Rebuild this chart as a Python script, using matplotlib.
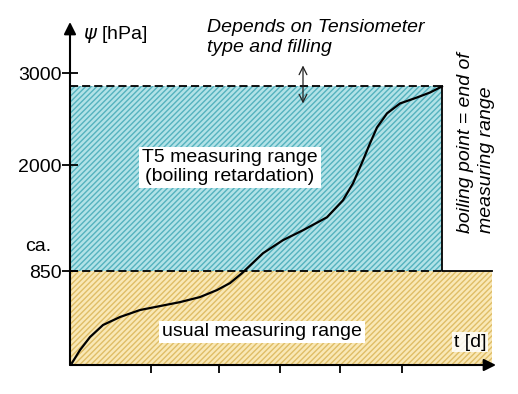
import matplotlib
matplotlib.use("Agg")
import matplotlib.pyplot as plt

plt.rcParams["font.family"] = ["Liberation Sans", "DejaVu Sans"]
plt.rcParams["hatch.linewidth"] = 1.0

# curve: time (arbitrary units) and suction (hPa)
t_curve = [0.2, 1.0, 2.0, 3.3, 5.0, 7.0, 9.0, 11.0, 13.0, 14.7, 16.0, 17.2,
           19.3, 21.3, 23.3, 25.7, 27.3, 28.3, 29.3, 30.0, 30.7, 31.7, 33.0,
           34.7, 36.0, 37.2]
psi_curve = [-149, -8, 133, 264, 351, 427, 470, 513, 568, 644, 720, 828,
             1045, 1187, 1295, 1436, 1621, 1805, 2055, 2240, 2413, 2566, 2674,
             2739, 2793, 2859]

y_ticks = [850, 2000, 3000]
y_labels = ["850", "2000", "3000"]
x_ticks = [8.1, 14.9, 21.0, 27.0, 33.2]

psi_usual = 850      # end of usual measuring range
psi_top = 2860       # boiling point of T5
psi_var = [2674, 3087]  # double arrow span
t_boil = 37.2
t_end = 42.2
t_max = 42.6
psi_min, psi_max = -171, 3560

fig = plt.figure(figsize=(5.18, 3.94), dpi=100)
ax = fig.add_axes([70 / 518, 1 - 365 / 394, (496 - 70) / 518, (365 - 22) / 394])
ax.set_xlim(0, t_max)
ax.set_ylim(psi_min, psi_max)
for s in ax.spines.values():
    s.set_visible(False)

# hatched ranges
ax.fill_between([0, t_end], psi_min, psi_usual, facecolor="#f9e8b6",
                edgecolor="#dfbd66", hatch="//////", linewidth=0, zorder=1)
ax.fill_between([0, t_boil], psi_usual, psi_top, facecolor="#b2e2e7",
                edgecolor="#55b2be", hatch="//////", linewidth=0, zorder=1)

# range borders
ax.plot([0, t_boil], [psi_top, psi_top], color="black", lw=1.3,
        ls=(0, (4.5, 2.2)), zorder=3)
ax.plot([0, t_boil], [psi_usual, psi_usual], color="black", lw=1.3,
        ls=(0, (4.5, 2.2)), zorder=3)
ax.plot([t_boil, t_boil, t_end], [psi_top, psi_usual, psi_usual],
        color="black", lw=1.3, zorder=3)

# measured curve
ax.plot(t_curve, psi_curve, color="black", lw=1.6, zorder=4)

# axes with arrows
ax.annotate("", xy=(1, 0), xytext=(0, 0), xycoords="axes fraction",
            arrowprops=dict(arrowstyle="-|>", color="black", lw=1.5,
                            mutation_scale=18, shrinkA=0, shrinkB=0))
ax.annotate("", xy=(0, 1), xytext=(0, 0), xycoords="axes fraction",
            arrowprops=dict(arrowstyle="-|>", color="black", lw=1.5,
                            mutation_scale=18, shrinkA=0, shrinkB=0))

ax.set_yticks(y_ticks)
ax.set_yticklabels(y_labels, fontsize=14)
ax.tick_params(axis="y", direction="inout", length=12, width=1.3, pad=0)
ax.set_xticks(x_ticks)
ax.set_xticklabels([])
ax.tick_params(axis="x", direction="out", length=6, width=1.3)

# double arrow for the variable upper limit
ax.annotate("", xy=(23.3, psi_var[0]), xytext=(23.3, psi_var[1]),
            arrowprops=dict(arrowstyle="<->", color="#222222", lw=0.9,
                            mutation_scale=14, shrinkA=0, shrinkB=0))

# texts
ax.text(1.3, 3425, r"$\psi$ [hPa]", fontsize=14, va="center", ha="left")
ax.text(-4.5, 1120, "ca.", fontsize=14, va="center", ha="left",
        clip_on=False)
ax.text(13.7, 3390, "Depends on Tensiometer\ntype and filling", fontsize=14,
        style="italic", va="center", ha="left", linespacing=1.2)
ax.text(16.0, 1979, "T5 measuring range\n(boiling retardation)", fontsize=14,
        ha="center", va="center", linespacing=1.15, zorder=5,
        bbox=dict(facecolor="white", edgecolor="none", pad=2))
ax.text(19.2, 188, "usual measuring range", fontsize=14, ha="center",
        va="center", zorder=5,
        bbox=dict(facecolor="white", edgecolor="none", pad=2))
ax.text(40.0, 79, "t [d]", fontsize=14, ha="center", va="center", zorder=5,
        bbox=dict(facecolor="white", edgecolor="none", pad=1, alpha=0.85))
ax.text(40.6, 1263, "boiling point = end of\nmeasuring range", fontsize=14,
        style="italic", rotation=90, ha="center", va="bottom",
        multialignment="left", linespacing=1.3, clip_on=False)

fig.savefig("out.png", dpi=100)
